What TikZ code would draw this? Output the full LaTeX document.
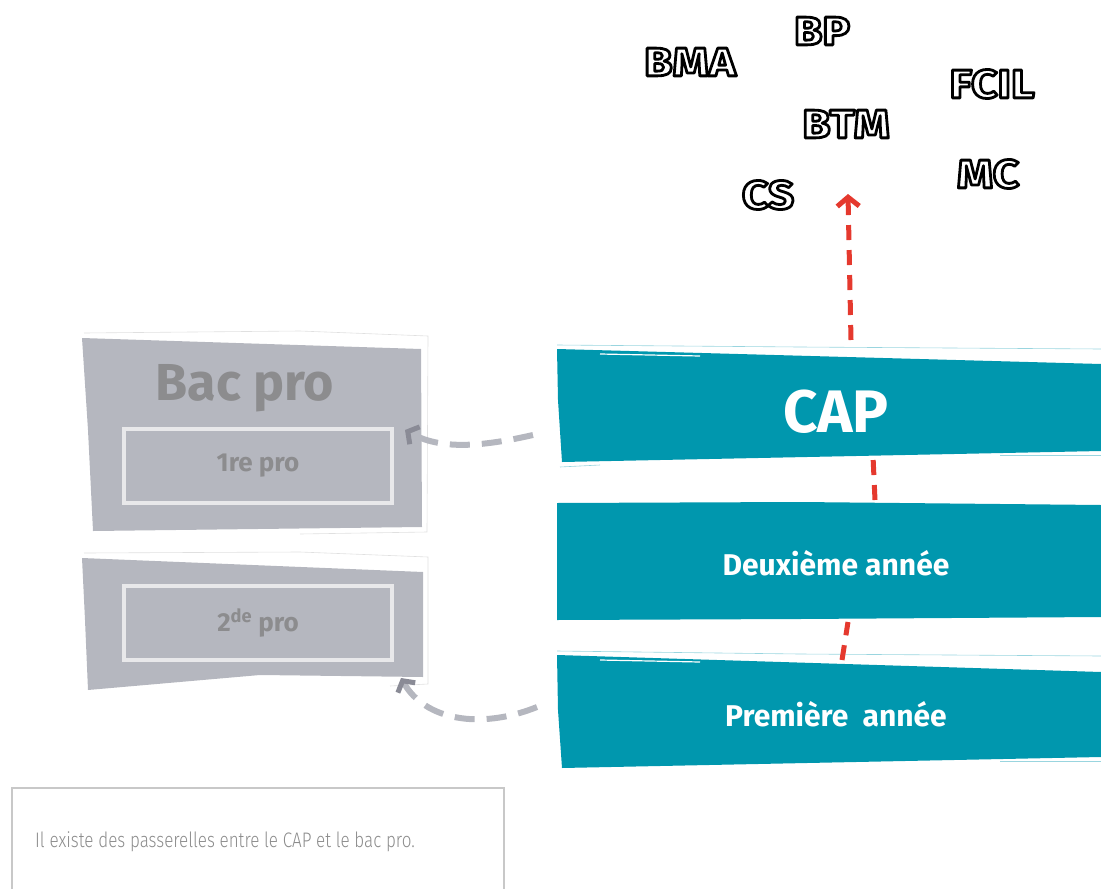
\documentclass[tikz,border=0pt]{standalone}
\usepackage{fontspec}
\setmainfont{Fira Sans}
\newfontfamily\notefont[FakeStretch=0.81]{Fira Sans Light}
\newfontfamily\outlinefont[FakeStretch=1.15]{Fira Sans}
\usetikzlibrary{arrows.meta}

\definecolor{capteal}{HTML}{0097AE}
\definecolor{bacgray}{HTML}{B5B7BF}
\definecolor{bactext}{HTML}{8C8C8E}
\definecolor{bacline}{HTML}{E8E8EA}
\definecolor{tipgray}{HTML}{8A8B96}
\definecolor{pathred}{HTML}{E5392E}
\definecolor{notegray}{HTML}{C8C8C8}

% white letters with a black outline
\newcommand{\hollow}[1]{\special{pdf:code q 2 Tr 2.8 w 0 G 1 j}#1\special{pdf:code Q}}

\tikzset{
  outlined/.style={inner sep=0pt,text=white,font=\outlinefont\bfseries\fontsize{40}{42}\selectfont},
  yearlabel/.style={inner sep=0pt,text=white,font=\bfseries\fontsize{30}{32}\selectfont},
  innerbox/.style={draw=bacline,line width=4pt,minimum width=268pt,minimum height=74pt,
    text=bactext,font=\bfseries\fontsize{26}{28}\selectfont},
  reddash/.style={draw=pathred,line width=5pt,dash pattern=on 15pt off 10pt},
  graydash/.style={draw=bacgray,line width=6pt,dash pattern=on 20pt off 12pt},
}

\begin{document}
\begin{tikzpicture}[x=1pt,y=-1pt]
      \useasboundingbox (0,0) rectangle (1101,889);
      % follow-on diplomas
      \node[outlined] (bma) at (690,62) {\hollow{BMA}};
      \node[outlined] (bp) at (822,31) {\hollow{BP}};
      \node[outlined] (fcil) at (992,84) {\hollow{FCIL}};
      \node[outlined] (btm) at (846,124) {\hollow{BTM}};
      \node[outlined] (cs) at (768,195) {\hollow{CS}};
      \node[outlined] (mc) at (988,174) {\hollow{MC}};
      % bac pro boxes
      \fill[bacgray] (82,338) -- (421,349) -- (422,527) -- (93,531) -- (88,430) -- cycle;
      \draw[black!12,line width=.6pt] (84,333) -- (300,331) -- (428,336) -- (427,532) -- (300,534);
      \node[inner sep=0pt,text=bactext,font=\bfseries\fontsize{52}{54}\selectfont] (bac) at (245,388) {Bac pro};
      \node[innerbox] (first) at (258,466) {1re pro};
      \fill[bacgray] (82,558) -- (423,572) -- (423,677) -- (260,675) -- (88,690) -- (85,620) -- cycle;
      \draw[black!12,line width=.6pt] (84,553) -- (300,552) -- (428,557) -- (428,684) -- (390,686);
      \node[innerbox] (second) at (258,623) {2\textsuperscript{de} pro};
      % cap boxes
      \fill[capteal] (557,349) -- (1101,364) -- (1101,451) -- (562,462) -- (558,400) -- cycle;
      \draw[capteal!40,line width=.6pt] (557,345) -- (800,347) -- (1101,349);
      \draw[white,line width=1.2pt] (600,354) -- (700,356);
      \draw[capteal!40,line width=.6pt] (560,467) -- (600,465);
      \draw[capteal!40,line width=.6pt] (1000,455) -- (1101,455);
      \node[inner sep=0pt,text=white,font=\bfseries\fontsize{60}{62}\selectfont] (cap) at (836,412) {CAP};
      \fill[capteal] (557,503) -- (800,502) -- (1101,505) -- (1101,617) -- (800,619) -- (557,620) -- cycle;
      \node[yearlabel] (deux) at (836,563) {Deuxième année};
      \fill[capteal] (557,655) -- (1101,672) -- (1101,757) -- (562,768) -- (558,710) -- cycle;
      \draw[capteal!40,line width=.6pt] (557,651) -- (800,654) -- (1101,656);
      \draw[white,line width=1.2pt] (600,660) -- (700,662);
      \draw[capteal!40,line width=.6pt] (1000,761) -- (1101,761);
      \node[yearlabel] (prem) at (836,714) {Première~ année};
      % red path up through the cap
      \coordinate (p1) at (842,660);
      \coordinate (p2) at (848,622);
      \coordinate (d1) at (875,500);
      \coordinate (d2) at (873,456);
      \coordinate (c1) at (851,340);
      \coordinate (c2) at (848,194);
      \draw[reddash] (p1) -- (p2);
      \draw[reddash] (d1) -- (d2);
      \draw[reddash,-{Straight Barb[length=9pt,width=22pt,line width=5pt,color=pathred]}] (c1) -- (c2);
      % gateways to bac pro
      \coordinate (g1) at (533,435);
      \coordinate (g2) at (405,430);
      \coordinate (h1) at (537,707);
      \coordinate (h2) at (401,678);
      \draw[graydash,-{Straight Barb[length=8pt,width=20pt,line width=5pt,color=tipgray]}] (g1) .. controls (480,447) and (440,450) .. (g2);
      \draw[graydash,-{Straight Barb[length=8pt,width=20pt,line width=5pt,color=tipgray]}] (h1) .. controls (480,730) and (425,720) .. (h2);
      % note
      \draw[notegray,line width=2pt] (12,895) -- (12,788) -- (504,788) -- (504,895);
      \node[anchor=west,inner sep=0pt,text=black!45,font=\notefont\fontsize{21}{23}\selectfont] (note) at (35,842) {Il existe des passerelles entre le CAP et le bac pro.};
    \end{tikzpicture}
\end{document}
